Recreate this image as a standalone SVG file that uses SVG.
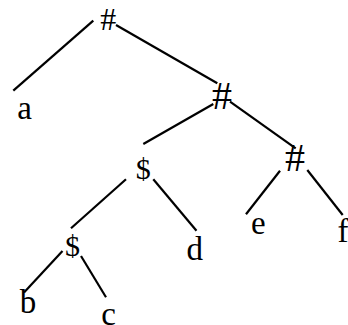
<svg xmlns="http://www.w3.org/2000/svg" width="348" height="325" viewBox="0 0 348 325">
<style>
.edge{stroke:#000;stroke-width:2.2;stroke-linecap:butt;fill:none}
.lbl{font-family:"Liberation Serif","DejaVu Serif",serif;font-size:33px;fill:#000;text-anchor:middle}
.op{font-family:"Liberation Serif","DejaVu Serif",serif;font-size:40px;fill:#000;text-anchor:middle}
.dol{font-family:"Liberation Serif","DejaVu Serif",serif;font-size:30px;fill:#000;text-anchor:middle}
</style>
<rect width="348" height="325" fill="#fff"/>
<g id="connectors">
<line class="edge" x1="93.3" y1="20.7" x2="13.3" y2="90.7"/>
<line class="edge" x1="116" y1="25" x2="217.3" y2="83.3"/>
<line class="edge" x1="213.3" y1="104" x2="143.3" y2="144"/>
<line class="edge" x1="230" y1="101.7" x2="295.7" y2="148.3"/>
<line class="edge" x1="126" y1="179.3" x2="71" y2="228.3"/>
<line class="edge" x1="153.3" y1="179.3" x2="196.5" y2="230.7"/>
<line class="edge" x1="280" y1="170.7" x2="246" y2="214.3"/>
<line class="edge" x1="307.3" y1="170" x2="342.7" y2="215"/>
<line class="edge" x1="62.5" y1="251" x2="24" y2="292.5"/>
<line class="edge" x1="81" y1="256" x2="106" y2="297.3"/>
</g>
<g id="n_root"><text class="op" x="108.3" y="29.5" style="font-size:32px">#</text></g>
<g id="n_a"><text class="lbl" x="24.5" y="119">a</text></g>
<g id="n_hash2"><text class="op" x="222" y="109">#</text></g>
<g id="n_dollar1"><text class="dol" x="143.3" y="179">$</text></g>
<g id="n_hash3"><text class="op" x="295" y="171">#</text></g>
<g id="n_d"><text class="lbl" x="194.7" y="260">d</text></g>
<g id="n_e"><text class="lbl" x="258.3" y="234">e</text></g>
<g id="n_f"><text class="lbl" x="343" y="241.5">f</text></g>
<g id="n_dollar2"><text class="dol" x="72.5" y="256">$</text></g>
<g id="n_b"><text class="lbl" x="28" y="313">b</text></g>
<g id="n_c"><text class="lbl" x="108.5" y="325">c</text></g>
</svg>
